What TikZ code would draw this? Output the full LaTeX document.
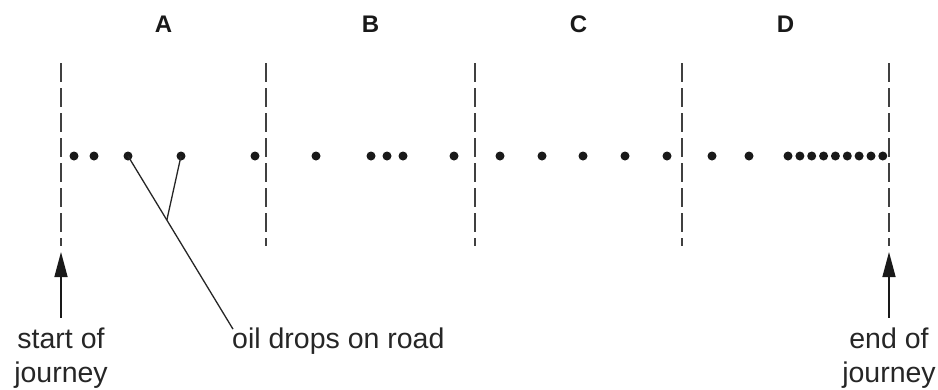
\documentclass[tikz,border=0pt]{standalone}
\usepackage{fontspec}
\setmainfont{Liberation Sans}
\usetikzlibrary{arrows.meta,calc}
\begin{document}
\begin{tikzpicture}[x=1pt,y=-1pt,
  dot/.style={circle,fill=black!90,inner sep=0pt,minimum size=9pt},
  divider/.style={line width=1.5pt,draw=black!75,dash pattern=on 19pt off 6pt},
  lbl/.style={font=\fontsize{28.5}{34}\selectfont,align=center,inner sep=0pt,text=black!85},
  sect/.style={font=\fontsize{24}{28}\selectfont\bfseries,inner sep=0pt,anchor=base,text=black!90},
  leader/.style={line width=1.3pt,draw=black!85},
  pointer/.style={line width=1.5pt,draw=black!90,shorten <=10pt,-{Triangle[length=25pt,width=13pt]}}]
\useasboundingbox (0,0) rectangle (938,389);

% section letters
\node[sect] (A) at (163.5,32) {A};
\node[sect] (B) at (370.5,32) {B};
\node[sect] (C) at (578.5,32) {C};
\node[sect] (D) at (785.5,32) {D};

% dividers
\foreach \x/\n in {61/v0,266/v1,475/v2,682/v3,889/v4}{
  \coordinate (\n t) at (\x,63);
  \coordinate (\n b) at (\x,246);
  \draw[divider] (\n t) -- (\n b);
}

% oil drops
\foreach \x [count=\i] in {74,94,128,181,255,316,371,387,403,454,500,542,583,625,667,712,749,
  788,799.9,811.7,823.6,835.4,847.3,859.1,871,882.8}{
  \node[dot] (d\i) at (\x,156) {};
}

% labels
\node[lbl,anchor=north] (start) at (61,327.5) {start of\\journey};
\node[lbl,anchor=north] (end) at (889,327.5) {end of\\journey};
\node[lbl,anchor=base west] (oil) at (232,348) {oil drops on road};

% arrows
\coordinate (starttip) at (61,252);
\coordinate (endtip) at (889,252);
\draw[pointer] (start.north) -- (starttip);
\draw[pointer] (end.north) -- (endtip);

% leader lines
\coordinate (oilend) at ($(oil.north west)+(1,2)$);
\coordinate (join) at ($(d3.center)!0.37!(oilend)$);
\draw[leader] (d3.center) -- (oilend);
\draw[leader] (d4.center) -- (join);
\end{tikzpicture}
\end{document}
